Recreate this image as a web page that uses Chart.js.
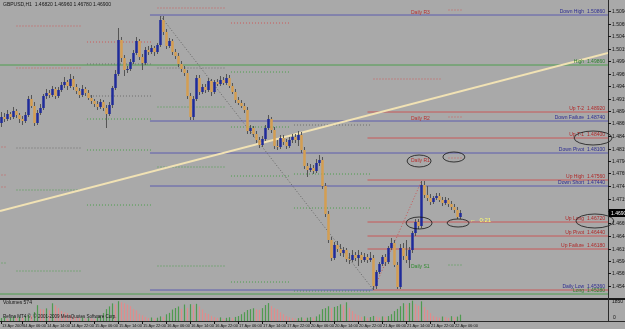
<!DOCTYPE html>
<html><head><meta charset="utf-8">
<script src="https://cdn.jsdelivr.net/npm/chart.js@4"></script>
<style>html,body{margin:0;padding:0;background:#a9a9a9;overflow:hidden}canvas{display:block}</style>
</head><body>
<canvas id="c" width="625" height="329"></canvas>
<script>
// ---- data (GBPUSD H1) ----
const openP = [1.4870,1.4882,1.4878,1.4888,1.4882,1.4894,1.4886,1.4878,1.4874,1.4886,
1.4918,1.4904,1.4870,1.4890,1.4900,1.4924,1.4930,1.4926,1.4938,1.4924,
1.4936,1.4946,1.4952,1.4944,1.4958,1.4942,1.4934,1.4926,1.4938,1.4930,
1.4920,1.4914,1.4908,1.4902,1.4912,1.4900,1.4888,1.4906,1.4940,1.4968,
1.5036,1.5000,1.4976,1.4978,1.4992,1.5010,1.5034,1.5002,1.4990,1.5016,
1.5012,1.5020,1.5012,1.5026,1.5076,1.5052,1.5024,1.5034,1.5012,1.5004,
1.4988,1.4978,1.4970,1.4924,1.4882,1.4918,1.4960,1.4932,1.4942,1.4936,
1.4954,1.4932,1.4952,1.4948,1.4956,1.4950,1.4960,1.4944,1.4932,1.4916,
1.4910,1.4904,1.4896,1.4854,1.4860,1.4848,1.4836,1.4826,1.4838,1.4860,
1.4878,1.4856,1.4824,1.4822,1.4840,1.4832,1.4824,1.4836,1.4842,1.4836,
1.4846,1.4816,1.4784,1.4776,1.4780,1.4774,1.4790,1.4796,1.4744,1.4688,
1.4636,1.4600,1.4626,1.4618,1.4610,1.4616,1.4598,1.4596,1.4606,1.4600,
1.4606,1.4596,1.4602,1.4596,1.4600,1.4544,1.4572,1.4588,1.4602,1.4592,
1.4620,1.4630,1.4586,1.4542,1.4620,1.4604,1.4596,1.4616,1.4650,1.4672,
1.4664,1.4746,1.4726,1.4720,1.4712,1.4720,1.4724,1.4716,1.4710,1.4716,
1.4708,1.4702,1.4696,1.4682];
const highP = [1.4892,1.4890,1.4896,1.4892,1.4902,1.4898,1.4890,1.4884,1.4892,1.4924,
1.4926,1.4912,1.4896,1.4908,1.4928,1.4938,1.4936,1.4944,1.4942,1.4942,
1.4952,1.4962,1.4956,1.4968,1.4964,1.4948,1.4940,1.4946,1.4942,1.4936,
1.4926,1.4918,1.4914,1.4918,1.4916,1.4906,1.4912,1.4944,1.4976,1.5060,
1.5042,1.5006,1.4984,1.4998,1.5016,1.5042,1.5038,1.5008,1.5022,1.5024,
1.5026,1.5024,1.5030,1.5084,1.5084,1.5058,1.5040,1.5038,1.5018,1.5010,
1.4994,1.4984,1.4976,1.4930,1.4924,1.4966,1.4966,1.4948,1.4948,1.4960,
1.4958,1.4956,1.4958,1.4964,1.4962,1.4968,1.4966,1.4950,1.4938,1.4922,
1.4916,1.4910,1.4902,1.4866,1.4864,1.4854,1.4842,1.4844,1.4866,1.4886,
1.4882,1.4862,1.4836,1.4846,1.4846,1.4838,1.4842,1.4848,1.4848,1.4854,
1.4852,1.4822,1.4790,1.4788,1.4786,1.4798,1.4806,1.4802,1.4750,1.4694,
1.4642,1.4632,1.4634,1.4628,1.4622,1.4620,1.4610,1.4616,1.4612,1.4616,
1.4612,1.4610,1.4608,1.4612,1.4606,1.4576,1.4592,1.4606,1.4608,1.4624,
1.4640,1.4636,1.4592,1.4628,1.4630,1.4636,1.4622,1.4654,1.4678,1.4678,
1.4754,1.4754,1.4744,1.4728,1.4724,1.4730,1.4730,1.4722,1.4722,1.4720,
1.4714,1.4708,1.4702,1.4696];
const lowP = [1.4862,1.4872,1.4874,1.4876,1.4878,1.4880,1.4870,1.4866,1.4870,1.4882,
1.4900,1.4864,1.4866,1.4886,1.4896,1.4918,1.4920,1.4922,1.4918,1.4920,
1.4932,1.4940,1.4936,1.4940,1.4936,1.4928,1.4920,1.4922,1.4924,1.4916,
1.4908,1.4902,1.4896,1.4898,1.4894,1.4860,1.4884,1.4900,1.4936,1.4964,
1.4992,1.4964,1.4970,1.4974,1.4988,1.5006,1.4996,1.4976,1.4986,1.5006,
1.5008,1.5004,1.5008,1.5022,1.5046,1.5018,1.5020,1.5006,1.4998,1.4982,
1.4972,1.4964,1.4918,1.4876,1.4876,1.4914,1.4926,1.4928,1.4930,1.4932,
1.4924,1.4928,1.4944,1.4944,1.4946,1.4946,1.4940,1.4928,1.4910,1.4906,
1.4900,1.4890,1.4848,1.4848,1.4842,1.4830,1.4820,1.4822,1.4834,1.4856,
1.4850,1.4818,1.4816,1.4818,1.4826,1.4818,1.4820,1.4830,1.4830,1.4824,
1.4810,1.4778,1.4762,1.4772,1.4768,1.4770,1.4784,1.4738,1.4682,1.4630,
1.4594,1.4596,1.4612,1.4604,1.4602,1.4592,1.4588,1.4592,1.4594,1.4584,
1.4590,1.4592,1.4590,1.4592,1.4536,1.4538,1.4568,1.4584,1.4584,1.4588,
1.4616,1.4582,1.4538,1.4538,1.4596,1.4590,1.4580,1.4610,1.4644,1.4658,
1.4660,1.4720,1.4714,1.4706,1.4708,1.4716,1.4712,1.4704,1.4706,1.4702,
1.4696,1.4690,1.4678,1.4678];
const closeP = [1.4882,1.4878,1.4888,1.4882,1.4894,1.4886,1.4878,1.4874,1.4886,1.4918,
1.4904,1.4870,1.4890,1.4900,1.4924,1.4930,1.4926,1.4938,1.4924,1.4936,
1.4946,1.4952,1.4944,1.4958,1.4942,1.4934,1.4926,1.4938,1.4930,1.4920,
1.4914,1.4908,1.4902,1.4912,1.4900,1.4888,1.4906,1.4940,1.4968,1.5036,
1.5000,1.4976,1.4978,1.4992,1.5010,1.5034,1.5002,1.4990,1.5016,1.5012,
1.5020,1.5012,1.5026,1.5076,1.5052,1.5024,1.5034,1.5012,1.5004,1.4988,
1.4978,1.4970,1.4924,1.4882,1.4918,1.4960,1.4932,1.4942,1.4936,1.4954,
1.4932,1.4952,1.4948,1.4956,1.4950,1.4960,1.4944,1.4932,1.4916,1.4910,
1.4904,1.4896,1.4854,1.4860,1.4848,1.4836,1.4826,1.4838,1.4860,1.4878,
1.4856,1.4824,1.4822,1.4840,1.4832,1.4824,1.4836,1.4842,1.4836,1.4846,
1.4816,1.4784,1.4776,1.4780,1.4774,1.4790,1.4796,1.4744,1.4688,1.4636,
1.4600,1.4626,1.4618,1.4610,1.4616,1.4598,1.4596,1.4606,1.4600,1.4606,
1.4596,1.4602,1.4596,1.4600,1.4544,1.4572,1.4588,1.4602,1.4592,1.4620,
1.4630,1.4586,1.4542,1.4620,1.4604,1.4596,1.4616,1.4650,1.4672,1.4664,
1.4746,1.4726,1.4720,1.4712,1.4720,1.4724,1.4716,1.4710,1.4716,1.4708,
1.4702,1.4696,1.4682,1.4690];
const volumes = [270,360,200,290,430,300,380,310,450,560,
480,820,1440,1090,1060,1150,980,1610,1420,1170,
900,780,720,540,420,350,280,330,210,260,
240,190,340,470,730,1080,1330,1600,1520,1800,
1710,1620,1500,1350,1090,960,650,520,390,270,
320,220,300,420,380,610,740,1040,1180,1320,
1100,1500,1190,1530,1470,1560,1330,1050,730,640,
470,360,280,330,200,290,340,260,370,450,
620,800,1000,1080,1160,1050,1010,1170,1450,1630,
1360,1150,1070,800,620,450,340,280,210,260,
330,220,300,350,310,420,600,1080,1170,1340,
1190,1280,1360,1520,1450,1700,1200,900,640,520,
380,430,290,360,460,400,310,420,350,450,
620,900,1100,1350,1620,1510,1640,1850,1530,1380,
1790,1260,1000,720,460,380,300,410,350,280,
440,330,400,574];

const xTickBars = [0,7,15,23,31,39,47,55,63,71,79,87,95,103,111,119,127,135,143,151];
const xTickLabels = ["13 Apr 2009","14 Apr 06:00","14 Apr 14:00","14 Apr 22:00","15 Apr 06:00","15 Apr 14:00","15 Apr 22:00","16 Apr 06:00","16 Apr 14:00","16 Apr 22:00","17 Apr 06:00","17 Apr 14:00","17 Apr 22:00","20 Apr 06:00","20 Apr 14:00","20 Apr 22:00","21 Apr 06:00","21 Apr 14:00","21 Apr 22:00","22 Apr 06:00"];
const priceTicks = [1.5094,1.5069,1.5044,1.5019,1.4994,1.4969,1.4944,1.4919,1.4894,1.4869,1.4844,1.4819,1.4794,1.4769,1.4744,1.4719,1.4694,1.4669,1.4644,1.4619,1.4594,1.4569,1.4544];

// level lines
const levelNames  = ['Down High','High','Up T-2','Down Failure','Up T-1','Down Pivot','Up High','Down Short','Up Long','Up Pivot','Up Failure','Daily Low','Long'];
const levelPrices = [1.5086,1.4986,1.4892,1.4874,1.4840,1.4810,1.4756,1.4744,1.4672,1.4644,1.4618,1.4536,1.4528];
const levelStart  = [49.5,-0.5,122,49.5,122,49.5,122,49.5,122,122,122,49.5,-0.5];
const levelKind   = ['down','green','up','down','up','down','up','down','up','up','up','down','green'];
const dailyLowRedFrom = 123.8;

// daily pivot dotted segments
const pivFrom  = [0,0,0,0, 5,5,5,5,5, 28.5,28.5,28.5,28.5,28.5,28.5, 52,52,52,52,52, 76.5,76.5,76.5,76.5,76.5, 97.5,97.5,97.5,97.5, 124, 149,149,149,149];
const pivTo    = [2,2,2,2, 27,27,27,27,27, 50.5,50.5,50.5,50.5,50.5,50.5, 74.5,74.5,74.5,74.5,74.5, 96.5,96.5,96.5,96.5,96.5, 123.5,123.5,123.5,123.5, 147, 154,154,154,154];
const pivPrice = [1.4822,1.4766,1.4742,1.4590, 1.5064,1.4980,1.4820,1.4736,1.4574, 1.5032,1.4988,1.4924,1.4878,1.4816,1.4706, 1.5100,1.4980,1.4902,1.4782,1.4584, 1.5070,1.4972,1.4862,1.4764,1.4552, 1.4866,1.4768,1.4700,1.4534, 1.4958, 1.5096,1.4882,1.4800,1.4586];
const pivKind  = ['r','r','r','g', 'r','r','k','g','g', 'r','k','k','g','g','g', 'r','k','g','g','g', 'r','g','g','g','g', 'k','g','g','g', 'r', 'r','r','r','g'];

// zigzag and trend line
const zzBars = [53,124,140];
const zzPrices = [1.5084,1.4536,1.4754];
const tlBars = [-0.5,202.17];
const tlPrices = [1.4694,1.5010];

// text / annotation anchors (bar, price)
const dailyLabels = [['Daily R3',136.5,1.5090,'#b83030'],['Daily R2',136.5,1.4878,'#b83030'],['Daily R1',136.5,1.4794,'#b83030'],['Daily S1',136.5,1.4582,'#2f8a2f']];
const ellipses = [[197.2,1.4840,19,7],[139.2,1.4794,12,6],[150.8,1.4802,11,5],[197.8,1.4674,19,7],[139.2,1.4670,13,6],[152.2,1.4670,11,4]];

// ---- chart ----
const XMIN=-0.5, XMAX=202.17;
const bull='#1f2b9a', bear='#d49e52';
const bodyData = openP.map((o,i)=>({x:i,y:[o,closeP[i]]}));
const wickData = highP.map((h,i)=>({x:i,y:[lowP[i],h]}));
const bodyColors = openP.map((o,i)=> closeP[i]>=o ? bull : bear);
const volData = volumes.map((v,i)=>({x:i,y:v}));
const volColors = volumes.map((v,i)=> (i===0 || v>volumes[i-1]) ? '#4f9a4f' : '#e08c8c');

const lineColors = {down:'#5c5cae', up:'#c85858', green:'#4e9e4e'};
const textColors = {down:'#2c2c92', up:'#b02828', green:'#2a7f2a'};
const pivColors = {r:'#cc5a5a', g:'#4c9e4c', k:'#6e6e6e'};

const datasets = [
  {type:'bar', data:bodyData, backgroundColor:bodyColors, borderWidth:0, barThickness:2.5, grouped:false, inflateAmount:0, order:0},
  {type:'bar', data:wickData, backgroundColor:'#555555', borderWidth:0, barThickness:1, grouped:false, inflateAmount:0, order:1},
  {type:'bar', data:volData, yAxisID:'yv', backgroundColor:volColors, borderWidth:0, barThickness:1.2, grouped:false, inflateAmount:0, order:2}
];
levelNames.forEach((n,k)=>{
  const p=levelPrices[k];
  if(n==='Daily Low'){
    datasets.push({type:'line', data:[{x:levelStart[k],y:p},{x:dailyLowRedFrom,y:p}], borderColor:lineColors.down, borderWidth:1, pointRadius:0, order:5});
    datasets.push({type:'line', data:[{x:dailyLowRedFrom,y:p},{x:XMAX,y:p}], borderColor:lineColors.up, borderWidth:1, pointRadius:0, order:5});
  } else {
    datasets.push({type:'line', data:[{x:levelStart[k],y:p},{x:XMAX,y:p}], borderColor:lineColors[levelKind[k]], borderWidth:1, pointRadius:0, order:5});
  }
});
pivPrice.forEach((p,k)=>{
  datasets.push({type:'line', data:[{x:pivFrom[k],y:p},{x:pivTo[k],y:p}], borderColor:pivColors[pivKind[k]], borderWidth:1, borderDash:[1,2], pointRadius:0, order:6});
});
datasets.push({type:'line', data:[{x:zzBars[0],y:zzPrices[0]},{x:zzBars[1],y:zzPrices[1]}], borderColor:'#666666', borderWidth:1, borderDash:[1,2], pointRadius:0, order:4});
datasets.push({type:'line', data:[{x:zzBars[1],y:zzPrices[1]},{x:zzBars[2],y:zzPrices[2]}], borderColor:'#c85858', borderWidth:1, borderDash:[1,2], pointRadius:0, order:4});
datasets.push({type:'line', data:[{x:tlBars[0],y:tlPrices[0]},{x:tlBars[1],y:tlPrices[1]}], borderColor:'#f1e2b4', borderWidth:2, pointRadius:0, order:3});

const FONT = '"Liberation Sans", Arial, sans-serif';
const deco = {
  id:'deco',
  beforeDraw(chart){
    const c=chart.ctx; c.save(); c.fillStyle='#a9a9a9'; c.fillRect(0,0,chart.width,chart.height); c.restore();
  },
  afterDatasetsDraw(chart){
    const c=chart.ctx, xs=chart.scales.x, ys=chart.scales.y, ca=chart.chartArea;
    c.save();
    c.font='5px '+FONT; c.textAlign='right'; c.textBaseline='bottom';
    levelNames.forEach((n,k)=>{
      const py=ys.getPixelForValue(levelPrices[k]);
      c.fillStyle=textColors[levelKind[k]];
      c.fillText(n+'  '+levelPrices[k].toFixed(5), ca.right-3, py-0.5);
    });
    c.textAlign='left'; c.textBaseline='middle';
    dailyLabels.forEach(d=>{ c.fillStyle=d[3]; c.fillText(d[0], xs.getPixelForValue(d[1]), ys.getPixelForValue(d[2])); });
    c.fillStyle='#ffff70'; c.font='6px '+FONT;
    c.fillText('\u2190  0:21', xs.getPixelForValue(156.2), ys.getPixelForValue(1.4676));
    c.strokeStyle='#151515'; c.lineWidth=0.8;
    ellipses.forEach(e=>{ c.beginPath(); c.ellipse(xs.getPixelForValue(e[0]), ys.getPixelForValue(e[1]), e[2], e[3], 0, 0, Math.PI*2); c.stroke(); });
    c.restore();
  },
  afterDraw(chart){
    const c=chart.ctx, xs=chart.scales.x, ys=chart.scales.y, yv=chart.scales.yv, ca=chart.chartArea;
    c.save();
    const sep = Math.round(ys.getPixelForValue(1.4520));
    c.fillStyle='#1a1a1a'; c.fillRect(0, sep, chart.width, 2);
    c.fillStyle='#2a2a2a';
    c.fillRect(ca.right, 0, 1, ca.bottom+1);
    c.fillRect(0, ca.bottom, chart.width, 1);
    c.font='5px '+FONT; c.textAlign='left'; c.textBaseline='middle'; c.fillStyle='#141414';
    priceTicks.forEach(v=>{
      const py=Math.round(ys.getPixelForValue(v));
      c.fillRect(ca.right, py, 3, 1);
      c.fillText(v.toFixed(5), ca.right+4, py+0.5);
    });
    const last = closeP[closeP.length-1];
    const cp = ys.getPixelForValue(last);
    c.fillStyle='#000'; c.fillRect(ca.right+1, cp-4, chart.width-ca.right-1, 8);
    c.fillStyle='#fff'; c.fillText(last.toFixed(5), ca.right+3, cp+0.5);
    c.fillStyle='#141414';
    const vmax = Math.max(...volumes);
    c.fillText(String(vmax), ca.right+4, yv.getPixelForValue(vmax)+1);
    c.fillText('0', ca.right+5, yv.getPixelForValue(0)-3);
    c.font='4px '+FONT; c.textBaseline='middle';
    xTickBars.forEach((b,k)=>{
      const px=Math.round(xs.getPixelForValue(b));
      c.fillRect(px, ca.bottom, 1, 3);
      c.fillText(xTickLabels[k], px+1, ca.bottom+4.5);
    });
    c.fillStyle='#151515'; c.font='5px '+FONT;
    const o=openP.length-1;
    c.fillText('GBPUSD,H1  '+openP[o].toFixed(5)+' '+highP[o].toFixed(5)+' '+lowP[o].toFixed(5)+' '+closeP[o].toFixed(5), 3, 4.5);
    c.fillText('Volumes '+volumes[o], 3, sep+5);
    c.font='4.5px '+FONT;
    c.fillText('Refina MT4 \u00a9, \u00a9 2001-2009 MetaQuotes Software Corp.', 3, ca.bottom-4);
    c.restore();
  }
};

new Chart(document.getElementById('c'), {
  type:'bar',
  data:{datasets},
  options:{
    responsive:false, animation:false, events:[], devicePixelRatio:1,
    layout:{padding:{left:0,right:17,top:0,bottom:8}},
    plugins:{legend:{display:false}, tooltip:{enabled:false}},
    scales:{
      x:{type:'linear', min:XMIN, max:XMAX, offset:false, display:false, grid:{offset:false}},
      y:{type:'linear', min:1.4474, max:1.5116, display:false},
      yv:{type:'linear', min:0, max:29180, display:false}
    }
  },
  plugins:[deco]
});
</script>
</body></html>
